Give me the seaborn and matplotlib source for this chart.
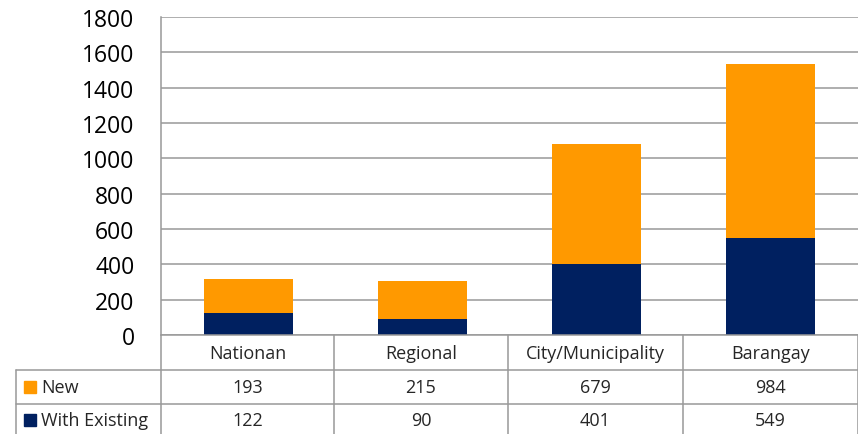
import numpy as np
import pandas as pd
import seaborn as sns
import matplotlib.pyplot as plt
from matplotlib.lines import Line2D
from matplotlib.patches import Rectangle

categories = ["Nationan", "Regional", "City/Municipality", "Barangay"]
new_vals = [193, 215, 679, 984]
existing_vals = [122, 90, 401, 549]
series_names = ["New", "With Existing"]
series_colors = ["#FF9900", "#002060"]

W, H = 858, 435
sns.set_style("white")
plt.rcParams['font.family'] = ['Open Sans', 'DejaVu Sans']

df = pd.DataFrame({"cat": categories, "new": new_vals, "existing": existing_vals})
df["total"] = df["new"] + df["existing"]

fig = plt.figure(figsize=(W / 100, H / 100), dpi=100)
ax = fig.add_axes([161 / W, (H - 336) / H, (W - 161) / W, (336 - 18) / H])

# stacked bars: total in orange, existing on top in navy
sns.barplot(data=df, x="cat", y="total", color=series_colors[0], width=0.51,
            saturation=1, linewidth=0, ax=ax, zorder=3)
sns.barplot(data=df, x="cat", y="existing", color=series_colors[1], width=0.51,
            saturation=1, linewidth=0, ax=ax, zorder=4)

ax.set_xlim(-0.5, 3.5)
ax.set_ylim(0, 1800)
ax.set_yticks(np.arange(0, 1801, 200))
ax.set_xticks([])
ax.set_xlabel("")
ax.set_ylabel("")
ax.yaxis.grid(True, color="#999999", linewidth=1.1, zorder=0)
ax.set_axisbelow(True)
for s in ["top", "right", "bottom"]:
    ax.spines[s].set_visible(False)
ax.spines["left"].set_color("#999999")
ax.spines["left"].set_linewidth(1.1)
ax.tick_params(axis="y", length=0, pad=19, labelsize=16.5, labelcolor="black")

# data table under the chart
def fx(x):
    return x / W

def fy(y):
    return 1 - y / H

gray = "#999999"
def hline(y, x0, x1):
    fig.add_artist(Line2D([fx(x0), fx(x1)], [fy(y), fy(y)], color=gray, lw=1.1))

def vline(x, y0, y1):
    fig.add_artist(Line2D([fx(x), fx(x)], [fy(y0), fy(y1)], color=gray, lw=1.1))

col_edges = [161, 334, 508, 683, 858]
hline(336, 161, 858)
hline(371, 16, 858)
hline(405, 16, 858)
vline(16, 371, 435)
for x in col_edges:
    vline(x, 336, 435)

for i, cat in enumerate(categories):
    cx = (col_edges[i] + col_edges[i + 1]) / 2
    fig.text(fx(cx), fy(354), cat, ha="center", va="center", fontsize=13)
    fig.text(fx(cx), fy(388), str(new_vals[i]), ha="center", va="center", fontsize=13)
    fig.text(fx(cx), fy(421), str(existing_vals[i]), ha="center", va="center", fontsize=13)

for name, color, yc in zip(series_names, series_colors, [388, 421]):
    fig.add_artist(Rectangle((fx(24), fy(yc + 6)), 12 / W, 12 / H, color=color,
                             transform=fig.transFigure))
    fig.text(fx(41), fy(yc), name, ha="left", va="center", fontsize=13)

fig.savefig("out.png", dpi=100)
